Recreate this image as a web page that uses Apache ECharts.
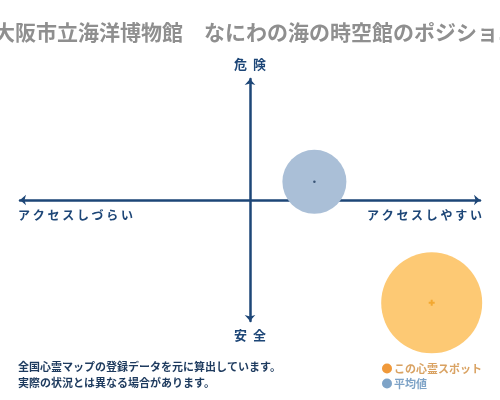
<!DOCTYPE html>
<html>
<head>
<meta charset="utf-8">
<script src="https://cdn.jsdelivr.net/npm/echarts@6/dist/echarts.min.js"></script>
<style>
html,body{margin:0;padding:0;background:#fff;}
#chart{width:500px;height:400px;}
</style>
</head>
<body>
<div id="chart"></div>
<script>
// ---- data ----
const titleText = '大阪市立海洋博物館　なにわの海の時空館のポジショニング';
const seriesNames = ['この心霊スポット', '平均値'];
const accessValues = [79, 28];     // x: アクセスしづらい(-) ⇔ アクセスしやすい(+)
const dangerValues = [-85, 15];    // y: 安全(-) ⇔ 危険(+)
const bubbleValues = [101, 64];    // bubble size value
const axisLabels = { top: '危 険', bottom: '安 全', left: 'アクセスしづらい', right: 'アクセスしやすい' };
const noteLines = ['全国心霊マップの登録データを元に算出しています。', '実際の状況とは異なる場合があります。'];

const spaced = s => s.split('').join(' ');
const navy = '#1d4677';
const font = '"Noto Sans CJK JP", sans-serif';

const chart = echarts.init(document.getElementById('chart'));

const bubbleColors = ['#fdc974', '#aabfd7'];
const dotColors = ['#f0a020', '#1d3a5e'];
const legendColors = ['#f0993a', '#7ea3c7'];
const legendTextColors = ['#d9a262', '#7ea3c7'];

const series = [];
seriesNames.forEach((name, i) => {
  series.push({
    name: name,
    type: 'scatter',
    data: [[accessValues[i], dangerValues[i], bubbleValues[i]]],
    symbolSize: d => d[2],
    itemStyle: { color: bubbleColors[i], opacity: 1 },
    emphasis: { disabled: true },
    silent: true,
    z: i === 0 ? 2 : 3
  });
});
seriesNames.forEach((name, i) => {
  series.push({
    name: name + '_c',
    type: 'scatter',
    data: [[accessValues[i], dangerValues[i]]],
    symbol: i === 0 ? 'path://M2,0H4V2H6V4H4V6H2V4H0V2H2Z' : 'circle',
    symbolSize: i === 0 ? 6 : 2.5,
    itemStyle: { color: dotColors[i] },
    silent: true,
    z: 4
  });
});

chart.setOption({
  animation: false,
  backgroundColor: '#fff',
  title: {
    text: titleText,
    left: -11,
    top: 17,
    textStyle: { fontFamily: font, fontSize: 21, fontWeight: 'bold', color: '#8f8f8f' }
  },
  grid: { left: 20, right: 20, top: 79, bottom: 79 },
  xAxis: {
    type: 'value', min: -100, max: 100,
    axisLine: { show: true, onZero: true, symbol: ['arrow', 'arrow'], symbolSize: [8, 6],
      lineStyle: { color: navy, width: 2.5 } },
    axisTick: { show: false }, axisLabel: { show: false }, splitLine: { show: false }
  },
  yAxis: {
    type: 'value', min: -100, max: 100,
    axisLine: { show: true, onZero: true, symbol: ['arrow', 'arrow'], symbolSize: [8, 6],
      lineStyle: { color: navy, width: 2.5 } },
    axisTick: { show: false }, axisLabel: { show: false }, splitLine: { show: false }
  },
  legend: {
    data: seriesNames.map((n, i) => ({
      name: n, icon: 'circle',
      itemStyle: { color: legendColors[i] },
      textStyle: { color: legendTextColors[i] }
    })),
    orient: 'vertical',
    left: 377, top: 358,
    itemWidth: 10, itemHeight: 10, itemGap: 4,
    selectedMode: false,
    textStyle: { fontFamily: font, fontSize: 11, fontWeight: 'bold', padding: [0, 0, 0, -3] }
  },
  graphic: [
    { type: 'text', left: 'center', top: 58, style: { text: axisLabels.top.replace(' ', '  '), font: 'bold 13px ' + font, fill: navy } },
    { type: 'text', left: 'center', top: 329, style: { text: axisLabels.bottom.replace(' ', '  '), font: 'bold 13px ' + font, fill: navy } },
    { type: 'text', left: 18, top: 209, style: { text: spaced(axisLabels.left), font: 'bold 12px ' + font, fill: navy } },
    { type: 'text', right: 18, top: 209, style: { text: spaced(axisLabels.right), font: 'bold 12px ' + font, fill: navy } },
    { type: 'text', left: 18, top: 359, style: { text: noteLines.join('\n'), font: 'bold 11px ' + font, fill: '#1d3a5e', lineHeight: 16 } }
  ],
  series: series
});
</script>
</body>
</html>
